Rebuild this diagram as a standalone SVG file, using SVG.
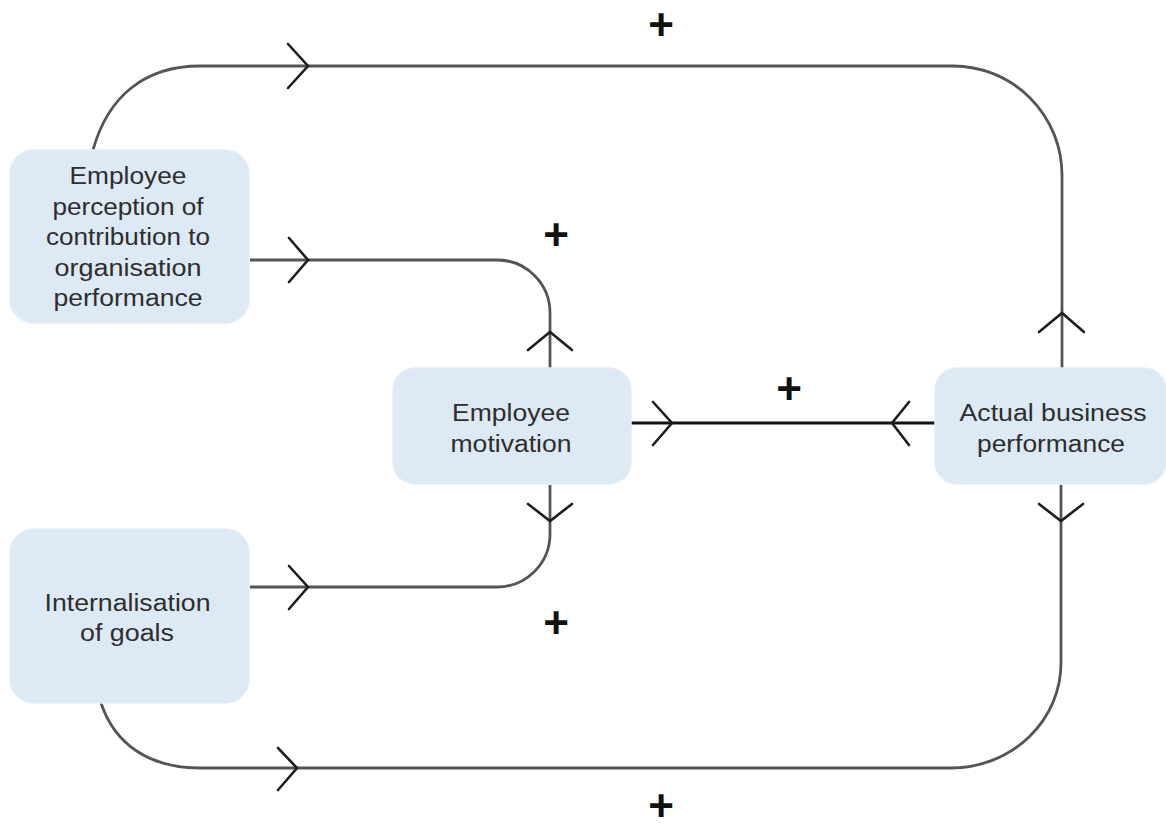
<svg xmlns="http://www.w3.org/2000/svg" width="1166" height="831" viewBox="0 0 1166 831">
<style>
.node rect{fill:#dde9f5;stroke:#e3edf8;stroke-width:1.5}
.node text{font-family:"Liberation Sans",Arial,sans-serif;font-size:23px;fill:#2e2e2e;text-anchor:middle}
.wire{fill:none;stroke:#555;stroke-width:2.8}
.mid{fill:none;stroke:#111;stroke-width:3}
.chev{fill:none;stroke:#1e1e1e;stroke-width:2.6;stroke-linecap:round;stroke-linejoin:miter}
.plus{font-family:"Liberation Sans",Arial,sans-serif;font-size:44px;font-weight:bold;fill:#111;text-anchor:middle}
</style>
<rect width="1166" height="831" fill="#ffffff"/>
<g id="connectors">
  <!-- top loop -->
  <path class="wire" d="M93,150 C108,96 145,66 200,66 L953,66 A109,109 0 0 1 1062,175 L1062,368"/>
  <polyline class="chev" points="288,44 308,66 288,88"/>
  <polyline class="chev" points="1039,332 1062,313 1084,332"/>
  <!-- perception to motivation -->
  <path class="wire" d="M250,260 L497,260 A53,53 0 0 1 550,313 L550,368"/>
  <polyline class="chev" points="289,238 308,260 289,282"/>
  <polyline class="chev" points="528,350 550,332 572,350"/>
  <!-- internalisation to motivation -->
  <path class="wire" d="M250,587 L497,587 A53,53 0 0 0 550,534 L550,485"/>
  <polyline class="chev" points="289,566 308,587 289,609"/>
  <polyline class="chev" points="528,504 550,521 572,504"/>
  <!-- motivation to business -->
  <path class="mid" d="M631,423 L935,423"/>
  <polyline class="chev" points="653,402 672,423 653,445"/>
  <polyline class="chev" points="909,402 892,423 909,445"/>
  <!-- bottom loop -->
  <path class="wire" d="M101,703 C115,745 150,768 200,768 L951,768 A110,105 0 0 0 1061,663 L1061,485"/>
  <polyline class="chev" points="278,748 297,768 278,790"/>
  <polyline class="chev" points="1039,504 1061,521 1083,504"/>
</g>
<g id="labels">
  <text class="plus" x="661" y="40">+</text>
  <text class="plus" x="556" y="250">+</text>
  <text class="plus" x="789" y="404">+</text>
  <text class="plus" x="556" y="638">+</text>
  <text class="plus" x="661" y="821">+</text>
</g>
<g id="node-perception" class="node">
  <rect x="10" y="150" width="239" height="173" rx="24"/>
  <text x="128" y="184" textLength="117" lengthAdjust="spacingAndGlyphs">Employee</text>
  <text x="128" y="214.5" textLength="151" lengthAdjust="spacingAndGlyphs">perception of</text>
  <text x="128" y="245" textLength="164" lengthAdjust="spacingAndGlyphs">contribution to</text>
  <text x="128" y="275.5" textLength="147" lengthAdjust="spacingAndGlyphs">organisation</text>
  <text x="128" y="306" textLength="149" lengthAdjust="spacingAndGlyphs">performance</text>
</g>
<g id="node-motivation" class="node">
  <rect x="393" y="368" width="238" height="116" rx="22"/>
  <text x="511" y="421" textLength="118" lengthAdjust="spacingAndGlyphs">Employee</text>
  <text x="511" y="452" textLength="121" lengthAdjust="spacingAndGlyphs">motivation</text>
</g>
<g id="node-business" class="node">
  <rect x="935" y="368" width="231" height="116" rx="22"/>
  <text x="1053" y="421" textLength="187" lengthAdjust="spacingAndGlyphs">Actual business</text>
  <text x="1051" y="452" textLength="148" lengthAdjust="spacingAndGlyphs">performance</text>
</g>
<g id="node-internalisation" class="node">
  <rect x="10" y="529" width="239" height="174" rx="24"/>
  <text x="127.5" y="611" textLength="166" lengthAdjust="spacingAndGlyphs">Internalisation</text>
  <text x="127" y="641" textLength="94" lengthAdjust="spacingAndGlyphs">of goals</text>
</g>
</svg>
